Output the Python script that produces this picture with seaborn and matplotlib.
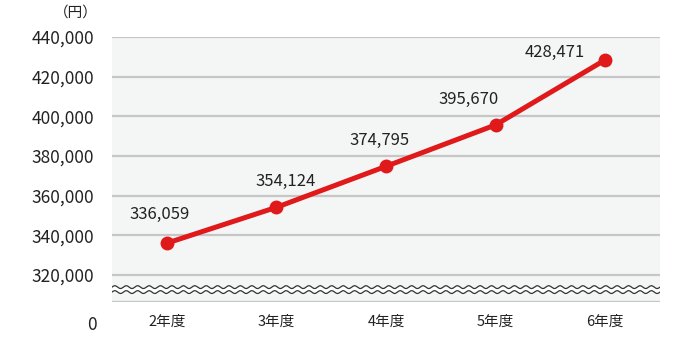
import numpy as np
import pandas as pd
import matplotlib
matplotlib.use("Agg")
import matplotlib.pyplot as plt
import matplotlib.transforms as mtransforms
import seaborn as sns

categories = ["2年度", "3年度", "4年度", "5年度", "6年度"]
values = [336059, 354124, 374795, 395670, 428471]
tick_values = [320000, 340000, 360000, 380000, 400000, 420000, 440000]
tick_labels = ["320,000", "340,000", "360,000", "380,000", "400,000", "420,000", "440,000"]
zero_label = "0"
unit_label = "（円）"

sns.set_theme(style="white")
plt.rcParams["font.family"] = ["Noto Sans CJK JP", "DejaVu Sans"]

df = pd.DataFrame({"cat": categories, "val": values})

fig = plt.figure(figsize=(6.76, 3.5), dpi=100)
ax = fig.add_axes([112/676, 1 - 302/350, (660 - 112)/676, (302 - 37)/350])
ax.set_facecolor("#f4f5f5")

y_bottom = 306400
ax.set_ylim(y_bottom, 440000)
ax.set_xlim(-0.5, 4.5)

# gridlines
for t in tick_values:
    ax.axhline(t, color="#c6c6c6", lw=1.6, zorder=1)
ax.axhline(y_bottom, color="#c6c6c6", lw=2.4, zorder=1)

# axis break wavy lines
xs = np.linspace(-0.5, 4.5, 800)
wave = np.sin((xs + 0.5) / 5 * 2 * np.pi * 48) * 700
ax.fill_between(xs, 311400 + wave, 313900 + wave, color="white", lw=0, zorder=2)
for base in (313900, 311400):
    ax.plot(xs, base + wave, color="#333333", lw=0.9, zorder=2, clip_on=True)

sns.lineplot(data=df, x="cat", y="val", ax=ax, color="#e0191b", lw=3.6,
             marker="o", markersize=10, markeredgewidth=0, zorder=3, sort=False)

offsets = [(-7, 29), (9, 26), (-6, 26), (-27, 25), (-50, 7)]
for i, (v, off) in enumerate(zip(values, offsets)):
    ax.annotate(f"{v:,}", (i, v), xytext=off, textcoords="offset pixels",
                ha="center", va="center", fontsize=12, color="#222222")

ax.set_yticks(tick_values)
ax.set_yticklabels(tick_labels)
ax.set_xticks(range(len(categories)))
ax.set_xticklabels(categories)
ax.tick_params(axis="y", length=0, pad=13, labelsize=12.5, labelcolor="#222222")
ax.tick_params(axis="x", length=0, pad=9, labelsize=10.5, labelcolor="#222222")
ax.set_xlabel("")
ax.set_ylabel("")
for s in ax.spines.values():
    s.set_visible(False)

# "0" label placed on the category row
fig.text(97/676, 1 - 325/350, zero_label, ha="right", va="center", fontsize=12.5, color="#222222")
fig.text(98/676, 1 - 13/350, unit_label, ha="right", va="center", fontsize=10.5, color="#222222")

fig.savefig("out.png", dpi=100)
